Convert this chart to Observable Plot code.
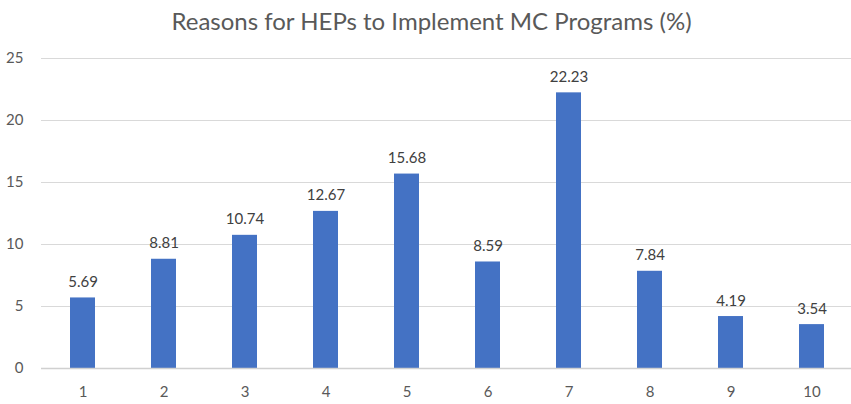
<!DOCTYPE html>
<html>
<head>
<meta charset="utf-8">
<script src="https://cdn.jsdelivr.net/npm/d3@7"></script>
<script src="https://cdn.jsdelivr.net/npm/@observablehq/plot@0.6"></script>
<style>
  html, body { margin: 0; padding: 0; background: #fff; }
  #title { font-family: Lato, "Open Sans", sans-serif; font-size: 24px; color: #595959;
           height: 40px; line-height: 42px; text-align: center; width: 851px; padding-left: 12px; box-sizing: border-box; }
</style>
</head>
<body>
<div id="title">Reasons for HEPs to Implement MC Programs (%)</div>
<div id="chart"></div>
<script>
const categories = ["1","2","3","4","5","6","7","8","9","10"];
const values = [5.69, 8.81, 10.74, 12.67, 15.68, 8.59, 22.23, 7.84, 4.19, 3.54];
const yTicks = [0, 5, 10, 15, 20, 25];

const data = categories.map((c, i) => ({cat: c, value: values[i]}));

const chart = Plot.plot({
  width: 851,
  height: 364,
  marginTop: 18,
  marginBottom: 36,
  marginLeft: 41,
  marginRight: 0,
  style: {fontFamily: "Lato, 'Open Sans', sans-serif", fontSize: "15px", color: "#595959", background: "#fff"},
  x: {domain: categories, range: [41, 853.6], paddingInner: 0.69, paddingOuter: 0.345, label: null},
  y: {domain: [0, 25], ticks: yTicks, label: null},
  marks: [
    Plot.gridY(yTicks.filter(d => d > 0), {stroke: "#d9d9d9", strokeOpacity: 1}),
    Plot.barY(data, {x: "cat", y: "value", fill: "#4472C4"}),
    Plot.ruleY([0], {stroke: "#d0d0d0", strokeWidth: 1.5}),
    Plot.text(data, {x: "cat", y: "value", text: d => d.value.toFixed(2), lineAnchor: "bottom", dy: -11, fill: "#404040", fontSize: 15}),
    Plot.axisX({tickSize: 0, tickPadding: 18, fill: "#595959", fontSize: 15}),
    Plot.axisY({ticks: yTicks, tickSize: 0, tickPadding: 18, fill: "#595959", fontSize: 15})
  ]
});
document.getElementById("chart").appendChild(chart);
</script>
</body>
</html>
